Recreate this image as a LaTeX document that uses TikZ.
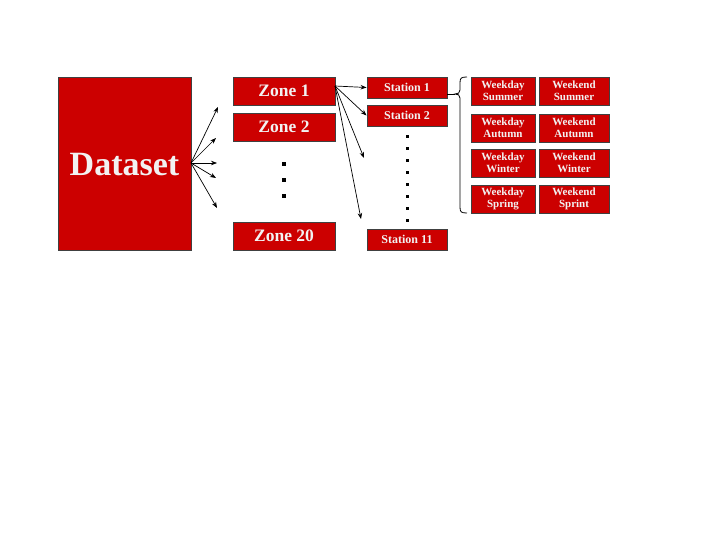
\documentclass[tikz,border=0pt]{standalone}
\usepackage{fontspec}
\setmainfont{Liberation Serif}
\usetikzlibrary{arrows.meta}
\definecolor{boxred}{HTML}{CC0000}
\definecolor{boxline}{HTML}{404040}
\definecolor{txt}{HTML}{F2F2F2}
\tikzset{
  redbox/.style={draw=boxline, line width=0.9pt, fill=boxred, text=txt, inner sep=0pt, font=\bfseries},
  onebox/.style={redbox, text depth=0pt},
  conn/.style={-{Stealth[length=6pt,width=4.5pt]}, line width=0.7pt, black},
  dotsq/.style={fill=black, inner sep=0pt, minimum size=3.5pt},
  sdot/.style={fill=black, inner sep=0pt, minimum size=3pt}
}
\begin{document}
\begin{tikzpicture}[x=1pt,y=-1pt]
\useasboundingbox (0,0) rectangle (720,540);
% Dataset
\node[onebox, minimum width=133pt, minimum height=173pt, font=\bfseries\fontsize{34}{36}\selectfont] (ds) at (124.5,164) {Dataset};
% Zones
\node[onebox, minimum width=102pt, minimum height=28pt, font=\bfseries\fontsize{17.5}{19}\selectfont] (z1) at (284,91) {Zone 1};
\node[onebox, minimum width=102pt, minimum height=28pt, font=\bfseries\fontsize{17.5}{19}\selectfont] (z2) at (284,127) {Zone 2};
\node[onebox, minimum width=102pt, minimum height=28pt, font=\bfseries\fontsize{17.5}{19}\selectfont] (z20) at (284,236) {Zone 20};
\node[dotsq] (zd1) at (284,164) {};
\node[dotsq] (zd2) at (284,180) {};
\node[dotsq] (zd3) at (284,196) {};
% Dataset arrows
\coordinate (dsr) at (191,163);
\coordinate (a1) at (218,107);
\coordinate (a2) at (216,138);
\coordinate (a3) at (217,163);
\coordinate (a4) at (216,178);
\coordinate (a5) at (217,208);
\foreach \t in {a1,a2,a3,a4,a5} \draw[conn] (dsr) -- (\t);
% Stations
\node[onebox, minimum width=80pt, minimum height=21pt, font=\bfseries\fontsize{12}{14}\selectfont] (s1) at (407,87.5) {Station 1};
\node[onebox, minimum width=80pt, minimum height=21pt, font=\bfseries\fontsize{12}{14}\selectfont] (s2) at (407,115.5) {Station 2};
\node[onebox, minimum width=80pt, minimum height=21pt, font=\bfseries\fontsize{12}{14}\selectfont] (s11) at (407,239.5) {Station 11};
\foreach \i/\y in {1/137,2/149,3/161,4/173,5/185,6/197,7/209,8/221} \node[sdot] (sd\i) at (407,\y) {};
% Zone 1 arrows
\coordinate (z1r) at (335,86);
\coordinate (b3) at (364,158);
\coordinate (b4) at (361,219);
\draw[conn] (z1r) -- (s1.west);
\draw[conn] (z1r) -- (s2.west);
\draw[conn] (z1r) -- (b3);
\draw[conn] (z1r) -- (b4);
% Brace
\coordinate (tip) at (455,94);
\draw[line width=0.8pt] (s1.east |- tip) -- (tip);
\draw[line width=0.8pt] (467,77) .. controls (461,77) and (460,78) .. (460,83) -- (460,90) .. controls (460,93) and (458,94) .. (tip) .. controls (458,94) and (460,95) .. (460,98) -- (460,207) .. controls (460,212) and (461,213) .. (467,213);
% Season boxes
\tikzset{sbox/.style={redbox, minimum height=28pt, align=center, font=\bfseries\fontsize{11}{12.5}\selectfont}}
\node[sbox, minimum width=64pt] (wd1) at (503,91) {Weekday\\Summer};
\node[sbox, minimum width=70pt] (we1) at (574,91) {Weekend\\Summer};
\node[sbox, minimum width=64pt] (wd2) at (503,128) {Weekday\\Autumn};
\node[sbox, minimum width=70pt] (we2) at (574,128) {Weekend\\Autumn};
\node[sbox, minimum width=64pt] (wd3) at (503,163) {Weekday\\Winter};
\node[sbox, minimum width=70pt] (we3) at (574,163) {Weekend\\Winter};
\node[sbox, minimum width=64pt] (wd4) at (503,199) {Weekday\\Spring};
\node[sbox, minimum width=70pt] (we4) at (574,199) {Weekend\\Sprint};
\end{tikzpicture}
\end{document}
